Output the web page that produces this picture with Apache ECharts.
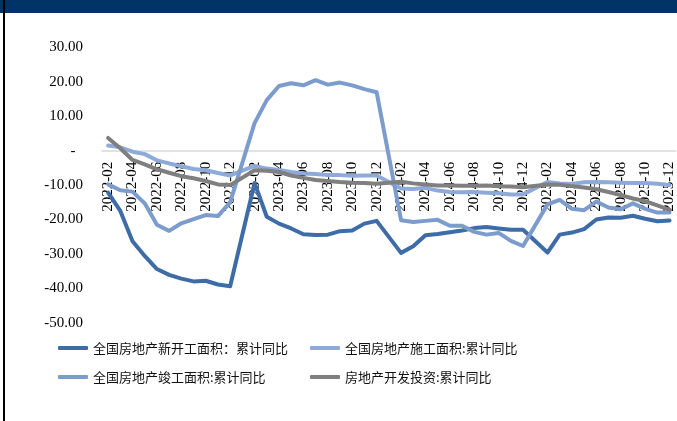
<!DOCTYPE html>
<html>
<head>
<meta charset="utf-8">
<script src="https://cdn.jsdelivr.net/npm/echarts@6/dist/echarts.min.js"></script>
<style>
  html, body { margin: 0; padding: 0; background: #ffffff; }
  #chart { width: 677px; height: 421px; }
</style>
</head>
<body>
<div id="chart"></div>
<script>
// Monthly cumulative YoY (%), Jan values are not published (null, joined across)
const months = [
  '2022-02','2022-03','2022-04','2022-05','2022-06','2022-07','2022-08','2022-09','2022-10','2022-11','2022-12',
  '2023-01','2023-02','2023-03','2023-04','2023-05','2023-06','2023-07','2023-08','2023-09','2023-10','2023-11','2023-12',
  '2024-01','2024-02','2024-03','2024-04','2024-05','2024-06','2024-07','2024-08','2024-09','2024-10','2024-11','2024-12',
  '2025-01','2025-02','2025-03','2025-04','2025-05','2025-06','2025-07','2025-08','2025-09','2025-10','2025-11','2025-12'
];

const newStarts = [
  -12.2, -17.5, -26.3, -30.6, -34.4, -36.1, -37.2, -38.0, -37.8, -38.9, -39.4,
  null, -9.4, -19.2, -21.2, -22.6, -24.3, -24.5, -24.4, -23.4, -23.2, -21.2, -20.4,
  null, -29.7, -27.8, -24.6, -24.2, -23.7, -23.2, -22.5, -22.2, -22.6, -23.0, -23.0,
  null, -29.6, -24.4, -23.8, -22.8, -20.0, -19.4, -19.5, -18.9, -19.8, -20.5, -20.3
];

const underConstruction = [
  1.5, 1.0, -0.3, -1.0, -2.8, -3.7, -4.5, -5.3, -5.7, -6.5, -7.2,
  null, -4.4, -5.2, -5.6, -6.2, -6.6, -6.8, -7.1, -7.1, -7.3, -7.2, -7.2,
  null, -11.0, -11.1, -10.8, -11.6, -12.0, -12.1, -12.0, -12.2, -12.4, -12.7, -12.7,
  null, -9.1, -9.5, -9.7, -9.2, -9.1, -9.2, -9.3, -9.4, -9.4, -9.6, -10.0
];

const completed = [
  -9.8, -11.5, -11.9, -15.3, -21.5, -23.3, -21.1, -19.9, -18.7, -19.0, -15.0,
  null, 8.0, 14.7, 18.8, 19.6, 19.0, 20.5, 19.2, 19.8, 19.0, 17.9, 17.0,
  null, -20.2, -20.7, -20.4, -20.1, -21.8, -21.8, -23.6, -24.4, -23.9, -26.2, -27.7,
  null, -15.6, -14.3, -16.9, -17.3, -14.8, -16.5, -17.0, -15.3, -16.9, -18.0, -18.0
];

const investment = [
  3.7, 0.7, -2.7, -4.0, -5.4, -6.4, -7.4, -8.0, -8.8, -9.8, -10.0,
  null, -5.7, -5.8, -6.2, -7.2, -7.9, -8.5, -8.8, -9.1, -9.3, -9.4, -9.6,
  null, -9.0, -9.5, -9.8, -10.1, -10.1, -10.2, -10.2, -10.1, -10.3, -10.4, -10.6,
  null, -9.8, -9.9, -10.3, -10.7, -11.2, -12.0, -12.9, -13.9, -14.7, -15.9, -17.2
];

const seriesNames = [
  '全国房地产新开工面积：累计同比',
  '全国房地产施工面积:累计同比',
  '全国房地产竣工面积:累计同比',
  '房地产开发投资:累计同比'
];
const seriesColors = ['#3d6ca7', '#8eaad9', '#7b9ccd', '#7f7f7f'];
const seriesData = [newStarts, underConstruction, completed, investment];

const Y_MIN = -50, Y_MAX = 30, Y_STEP = 10;
const GRID_TOP = 47.5, GRID_BOTTOM = 98.3, CHART_H = 421;

// Place the category axis on the y = 0 level of the value axis
const plotH = CHART_H - GRID_TOP - GRID_BOTTOM;
const zeroOffset = -plotH * (0 - Y_MIN) / (Y_MAX - Y_MIN);

const chart = echarts.init(document.getElementById('chart'), null, { renderer: 'canvas' });

const serifFont = '"Liberation Serif", "Times New Roman", serif';
const cjkFont = '"Noto Sans CJK SC", "Noto Sans", sans-serif';

function legendAt(name, left, top) {
  return {
    data: [name],
    left: left,
    top: top,
    padding: 0,
    icon: 'roundRect',
    itemWidth: 30,
    itemHeight: 4,
    selectedMode: false,
    textStyle: { fontFamily: cjkFont, fontSize: 13, color: '#111', lineHeight: 16 }
  };
}

chart.setOption({
  animation: false,
  backgroundColor: '#ffffff',
  grid: { left: 102, right: -2, top: GRID_TOP, bottom: GRID_BOTTOM, containLabel: false },
  legend: [
    legendAt(seriesNames[0], 58, 340),
    legendAt(seriesNames[1], 310, 340),
    legendAt(seriesNames[2], 58, 369),
    legendAt(seriesNames[3], 310, 369)
  ],
  xAxis: {
    type: 'category',
    data: months,
    boundaryGap: true,
    offset: zeroOffset,
    z: 0,
    axisLine: { show: true, onZero: false, lineStyle: { color: '#d9d9d9', width: 1.5 } },
    axisTick: { show: false },
    axisLabel: {
      interval: 1,
      rotate: 90,
      margin: 11,
      fontFamily: serifFont,
      fontSize: 15,
      color: '#000'
    },
    splitLine: { show: false }
  },
  yAxis: {
    type: 'value',
    min: Y_MIN,
    max: Y_MAX,
    interval: Y_STEP,
    axisLine: { show: false },
    axisTick: { show: false },
    splitLine: { show: false },
    axisLabel: {
      margin: 19,
      fontFamily: serifFont,
      fontSize: 15,
      color: '#000',
      formatter: v => (v === 0 ? '-  ' : v.toFixed(2))
    }
  },
  series: seriesData.map((d, i) => ({
    name: seriesNames[i],
    type: 'line',
    data: d,
    z: 10,
    connectNulls: true,
    showSymbol: false,
    symbol: 'none',
    color: seriesColors[i],
    lineStyle: { width: 4, color: seriesColors[i], join: 'round', cap: 'round' },
    emphasis: { disabled: true }
  })),
  graphic: [
    { type: 'rect', shape: { x: 0, y: 0, width: 677, height: 13 }, style: { fill: '#003366' }, z: 100 },
    { type: 'rect', shape: { x: 3, y: 0, width: 2, height: 421 }, style: { fill: '#000000' }, z: 101 }
  ]
});
</script>
</body>
</html>
